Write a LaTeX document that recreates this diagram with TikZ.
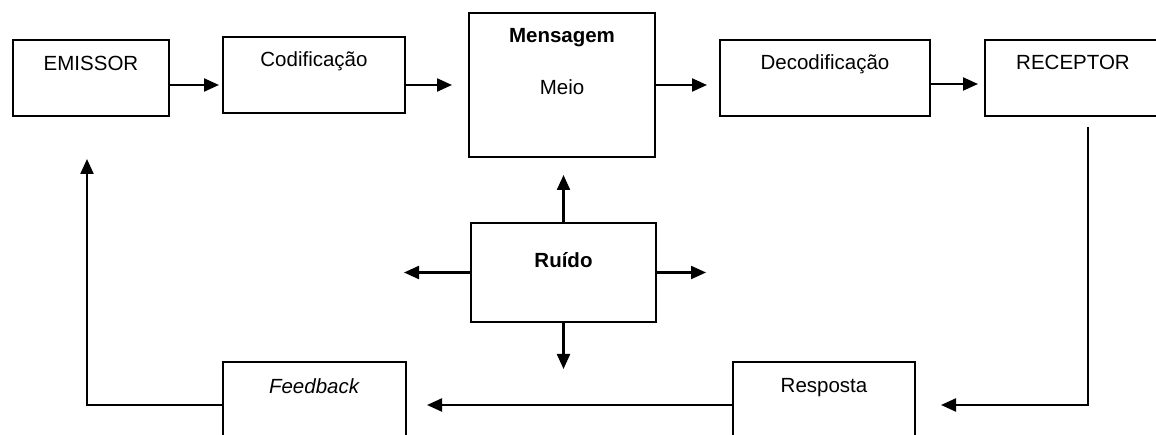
\documentclass[tikz,border=0pt]{standalone}
\usepackage{fontspec}
\setmainfont{Liberation Sans}
\usetikzlibrary{arrows.meta}

\begin{document}
\begin{tikzpicture}[x=1pt,y=-1pt,
  font=\fontsize{20.5}{24}\selectfont,
  caixa/.style={draw,line width=2pt,inner sep=0pt,anchor=north west,
    minimum width=#1,text height=30pt,text depth=46pt},
  seta/.style={line width=2.2pt,-{Triangle[length=15pt,width=13pt]}}]
\useasboundingbox (0,0) rectangle (1156,435);
% linha de cima
\node[caixa=156,text height=31pt,text depth=45pt] (emissor) at (12,39) {EMISSOR};
\node[caixa=182] (codificacao) at (222,36) {Codificação};
\node[caixa=186,text depth=114pt] (mensagem) at (468,12) {\textbf{Mensagem}};
\node[anchor=base] (meio) at ([yshift=-10pt]mensagem.center) {Meio};
\node[caixa=210] (decodificacao) at (719,39) {Decodificação};
\node[caixa=176] (receptor) at (984,39) {RECEPTOR};
% ruido e linha de baixo
\node[caixa=185,text height=45pt,text depth=54pt] (ruido) at (470,222) {\textbf{Ruído}};
\node[caixa=183,text height=31pt,text depth=55pt] (feedback) at (222,361) {\textit{Feedback}};
\node[caixa=182,text height=30pt,text depth=56pt] (resposta) at (732,361) {Resposta};
\coordinate (desce) at (1088,127);
\coordinate (ruido-esq) at (404,272);
\coordinate (ruido-dir) at (706,272);
\coordinate (ruido-baixo) at (562,369);
% setas
\draw[seta,shorten >=3pt] ([yshift=-7pt]emissor.east) -- ([yshift=-7pt]emissor.east -| codificacao.west);
\draw[seta,shorten >=16pt] ([yshift=-10pt]codificacao.east) -- ([yshift=-10pt]codificacao.east -| mensagem.west);
\draw[seta,shorten >=12pt] (mensagem.east) -- (mensagem.east -| decodificacao.west);
\draw[seta,shorten <=-2pt,shorten >=6pt] ([yshift=-6pt]decodificacao.east) -- ([yshift=-6pt]decodificacao.east -| receptor.west);
\draw[seta,shorten >=25pt] (desce) |- (resposta.east);
\draw[seta,shorten >=20pt] (resposta.west) -- (feedback.east);
\draw[seta,shorten >=42pt] (feedback.west) -| ([xshift=-4pt]emissor.south);
\draw[seta,shorten >=17pt] (ruido.north) -- (ruido.north |- mensagem.south);
\draw[seta] (ruido.west) -- (ruido.west -| ruido-esq);
\draw[seta] (ruido.east) -- (ruido.east -| ruido-dir);
\draw[seta] (ruido.south) -- (ruido.south |- ruido-baixo);
\end{tikzpicture}
\end{document}
